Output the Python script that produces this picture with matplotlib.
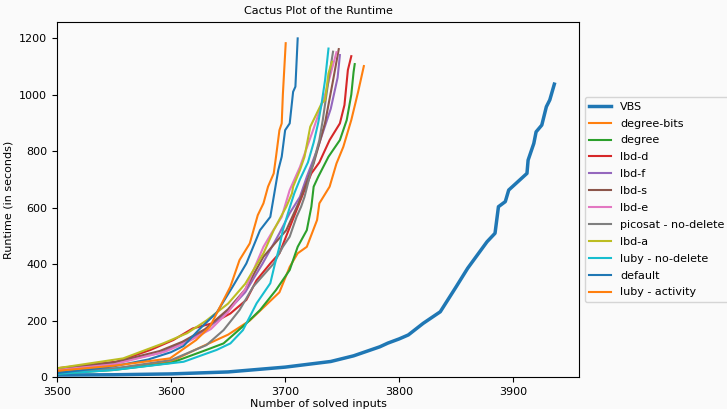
import numpy as np
import matplotlib
matplotlib.use("Agg")
import matplotlib.pyplot as plt

# solved-count / runtime pairs
vbs_x = [3500, 3550, 3600, 3650, 3700, 3740, 3760, 3783, 3790, 3800, 3808, 3821, 3836, 3850, 3860,
         3877, 3884, 3887, 3893, 3896, 3912, 3913, 3918, 3920, 3925, 3929, 3932, 3936]
vbs_y = [7, 8, 11, 18, 35, 55, 75, 107, 120, 135, 149, 190, 231, 320, 385,
         479, 509, 603, 621, 662, 721, 768, 827, 868, 892, 957, 981, 1037]

degbits_x = [3500, 3550, 3600, 3623, 3650, 3669, 3695, 3704, 3711, 3719, 3728, 3730, 3739, 3745, 3751, 3758, 3764, 3769]
degbits_y = [18, 30, 55, 100, 150, 200, 300, 390, 438, 461, 556, 615, 674, 756, 815, 910, 1010, 1101]

degree_x = [3500, 3550, 3600, 3631, 3646, 3666, 3678, 3692, 3704, 3707, 3711, 3719, 3723, 3725, 3729,
            3738, 3748, 3754, 3758, 3760, 3761]
degree_y = [12, 25, 50, 96, 119, 190, 237, 308, 379, 414, 461, 520, 603, 674, 709,
            780, 839, 910, 1000, 1080, 1108]

lbdd_x = [3500, 3552, 3582, 3602, 3619, 3636, 3652, 3666, 3675, 3687, 3695, 3705, 3717, 3723, 3730,
          3739, 3748, 3752, 3755, 3758]
lbdd_y = [31, 54, 96, 131, 172, 190, 225, 273, 343, 402, 438, 540, 662, 721, 760,
          839, 898, 963, 1087, 1136]

lbdf_x = [3500, 3550, 3590, 3610, 3630, 3650, 3665, 3680, 3695, 3704, 3713, 3719, 3728, 3740, 3746, 3748]
lbdf_y = [28, 50, 85, 120, 165, 235, 300, 400, 509, 580, 638, 709, 804, 950, 1060, 1140]

lbds_x = [3500, 3550, 3590, 3610, 3630, 3650, 3665, 3681, 3701, 3713, 3725, 3735, 3742, 3747]
lbds_y = [29, 52, 92, 125, 170, 240, 310, 426, 520, 627, 756, 900, 1050, 1161]

lbde_x = [3500, 3550, 3595, 3615, 3635, 3650, 3665, 3681, 3688, 3697, 3704, 3713, 3725, 3735, 3745]
lbde_y = [25, 45, 90, 125, 170, 230, 310, 461, 509, 567, 662, 744, 880, 1000, 1150]

pico_x = [3500, 3550, 3600, 3631, 3646, 3660, 3672, 3690, 3698, 3704, 3710, 3714, 3717, 3723, 3730,
          3733, 3738, 3742]
pico_y = [16, 30, 60, 113, 166, 237, 320, 402, 461, 497, 567, 603, 638, 733, 839,
          910, 1050, 1152]

lbda_x = [3500, 3558, 3593, 3614, 3631, 3650, 3665, 3681, 3690, 3701, 3706, 3707, 3713, 3717, 3722,
          3732, 3735, 3738, 3741]
lbda_y = [31, 66, 119, 155, 200, 260, 330, 438, 520, 603, 650, 674, 733, 780, 886,
          969, 981, 1075, 1116]

lubynd_x = [3500, 3550, 3611, 3640, 3652, 3663, 3675, 3687, 3691, 3695, 3698, 3704, 3708, 3713, 3720,
            3725, 3729, 3732, 3735, 3738]
lubynd_y = [11, 25, 54, 96, 119, 166, 261, 332, 400, 461, 520, 600, 650, 700, 760,
            830, 900, 969, 1051, 1163]

default_x = [3500, 3550, 3580, 3600, 3611, 3625, 3640, 3654, 3666, 3678, 3687, 3690, 3694, 3697, 3700,
             3704, 3707, 3709, 3711]
default_y = [14, 38, 62, 88, 110, 170, 228, 320, 402, 520, 567, 638, 733, 780, 874,
             898, 1010, 1028, 1199]

lubyact_x = [3500, 3550, 3599, 3622, 3634, 3643, 3652, 3660, 3669, 3676, 3681, 3685, 3690, 3692, 3695,
             3697, 3698, 3700.5]
lubyact_y = [22, 40, 66, 131, 178, 249, 320, 414, 473, 573, 615, 674, 721, 780, 874,
             898, 1000, 1182]

series = [
    ("VBS", vbs_x, vbs_y),
    ("degree-bits", degbits_x, degbits_y),
    ("degree", degree_x, degree_y),
    ("lbd-d", lbdd_x, lbdd_y),
    ("lbd-f", lbdf_x, lbdf_y),
    ("lbd-s", lbds_x, lbds_y),
    ("lbd-e", lbde_x, lbde_y),
    ("picosat - no-delete", pico_x, pico_y),
    ("lbd-a", lbda_x, lbda_y),
    ("luby - no-delete", lubynd_x, lubynd_y),
    ("default", default_x, default_y),
    ("luby - activity", lubyact_x, lubyact_y),
]

plt.rcParams['font.size'] = 8
bg = '#fafafa'
fig = plt.figure(figsize=(7.27, 4.09), dpi=100, facecolor=bg)
ax = fig.add_axes([0.0784, 0.0782, 0.7180, 0.868])
ax.set_facecolor(bg)

for i, (name, xs, ys) in enumerate(series):
    lw = 2.5 if name == "VBS" else 1.5
    ax.plot(xs, ys, label=name, linewidth=lw, color='C%d' % (i % 10))

ax.set_xlim(3500, 3957.6)
ax.set_ylim(0, 1257)
ax.set_xticks([3500, 3600, 3700, 3800, 3900])
ax.set_title("Cactus Plot of the Runtime", fontsize=8)
ax.set_xlabel("Number of solved inputs", labelpad=1.5)
ax.set_ylabel("Runtime (in seconds)")
ax.legend(loc='center left', bbox_to_anchor=(1.0, 0.5), facecolor=bg,
          labelspacing=0.62)

fig.savefig("out.png", dpi=100, facecolor=bg)
